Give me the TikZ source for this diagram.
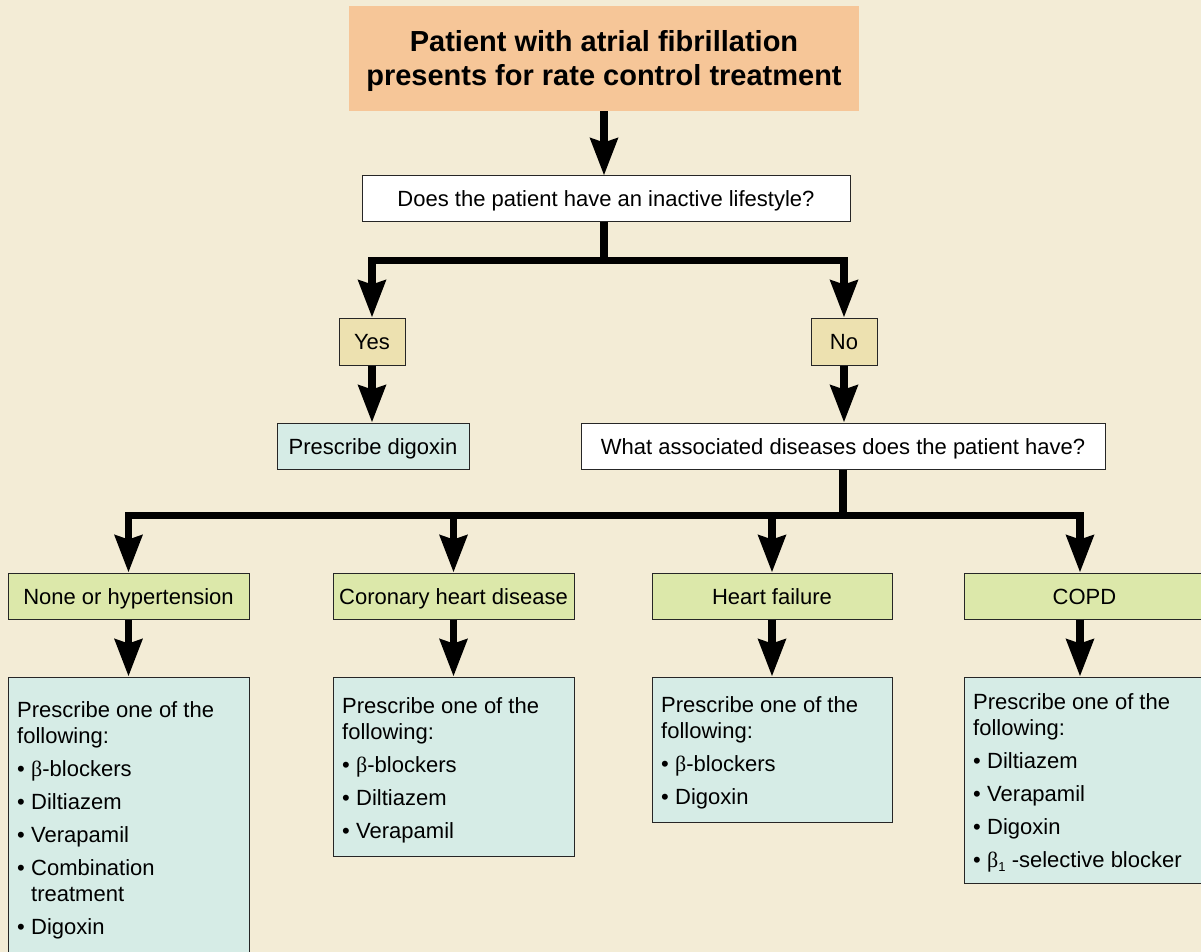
\documentclass[tikz,border=0pt]{standalone}
\usepackage{fontspec}
\setmainfont{Liberation Sans}
\newfontfamily\grk{Liberation Serif}
\usetikzlibrary{arrows.meta}
\definecolor{bg}{RGB}{243,236,214}
\definecolor{titleor}{RGB}{246,198,152}
\definecolor{ynfill}{RGB}{237,225,176}
\definecolor{tealfill}{RGB}{214,236,230}
\definecolor{catfill}{RGB}{220,232,170}
\newcommand{\bl}{\makebox[14pt][l]{•}}
\newcommand{\bta}{{\grk β}}
\begin{document}
\begin{tikzpicture}[x=1pt,y=-1pt,
 box/.style={draw=black!85, line width=1pt, inner sep=0pt, text height=16pt, text depth=0pt, font=\fontsize{22}{26}\selectfont},
 conn/.style={line width=7.5pt},
 arr/.style={conn, -{Stealth[length=37pt,width=27pt,inset=4pt]}},
 body/.style={anchor=north west, inner sep=0pt, align=left, font=\fontsize{22}{26}\selectfont}]
\clip (0,0) rectangle (1201,952);
\fill[bg] (0,0) rectangle (1201,952);

% top
\node[fill=titleor, minimum width=510pt, minimum height=105pt] (title) at (604,58.5) {};
\node[inner sep=0pt, align=center, font=\bfseries\fontsize{29}{34}\selectfont] (titletext) at (604,61)
      {Patient with atrial fibrillation\\presents for rate control treatment};
\node[box, fill=white, minimum width=488pt, minimum height=45pt] (q) at (606,198.5)
      {Does the patient have an inactive lifestyle?};
\node[box, fill=ynfill, minimum width=66pt, minimum height=47pt] (yes) at (372,341.5) {Yes};
\node[box, fill=ynfill, minimum width=66pt, minimum height=47pt] (no) at (844,341.5) {No};
\node[box, fill=tealfill, minimum width=192pt, minimum height=46pt] (dig) at (373,446) {Prescribe digoxin};
\node[box, fill=white, minimum width=524pt, minimum height=46pt] (what) at (843,446)
      {What associated diseases does the patient have?};

% categories
\node[box, fill=catfill, minimum width=241pt, minimum height=46pt] (c1) at (128.5,596) {None or hypertension};
\node[box, fill=catfill, minimum width=241pt, minimum height=46pt] (c2) at (453.5,596) {Coronary heart disease};
\node[box, fill=catfill, minimum width=240pt, minimum height=46pt] (c3) at (772,596) {Heart failure};
\node[box, fill=catfill, minimum width=241pt, minimum height=46pt] (c4) at (1084.5,596) {COPD};

% bottom boxes
\node[box, fill=tealfill, minimum width=241pt, minimum height=283pt] (b1) at (128.5,818.5) {};
\node[box, fill=tealfill, minimum width=241pt, minimum height=179pt] (b2) at (453.5,766.5) {};
\node[box, fill=tealfill, minimum width=240pt, minimum height=145pt] (b3) at (772,749.5) {};
\node[box, fill=tealfill, minimum width=241pt, minimum height=206pt] (b4) at (1084.5,780) {};

\node[body] (t1) at (17,701) {Prescribe one of the\\following:\\[7pt]\bl\bta-blockers\\[7pt]\bl Diltiazem\\[7pt]\bl Verapamil\\[7pt]\bl Combination\\\hspace*{14pt}treatment\\[7pt]\bl Digoxin};
\node[body] (t2) at (342,697) {Prescribe one of the\\following:\\[7pt]\bl\bta-blockers\\[7pt]\bl Diltiazem\\[7pt]\bl Verapamil};
\node[body] (t3) at (661,696) {Prescribe one of the\\following:\\[7pt]\bl\bta-blockers\\[7pt]\bl Digoxin};
\node[body] (t4) at (973,693) {Prescribe one of the\\following:\\[7pt]\bl Diltiazem\\[7pt]\bl Verapamil\\[7pt]\bl Digoxin\\[7pt]\bl\bta{\fontsize{13}{13}\selectfont\raisebox{-4pt}{1}} -selective blocker};

% connectors
\draw[arr] (title.south) -- (title.south |- q.north);
\draw[conn] (q.south -| title.south) -- ++(0,39) coordinate (j1);
\draw[arr] (j1) -| (yes.north);
\draw[arr] (j1) -| (no.north);
\draw[arr] (yes.south) -- (yes.south |- dig.north);
\draw[arr] (no.south) -- (no.south |- what.north);
\draw[conn] (what.south) -- ++(0,46) coordinate (j2);
\draw[arr] (j2) -| (c1.north);
\draw[arr] (j2) -| (c2.north);
\draw[arr] (j2) -| (c3.north);
\draw[arr] (j2) -| ([xshift=-4.5pt]c4.north);
\draw[arr] (c1.south) -- (b1.north);
\draw[arr] (c2.south) -- (b2.north);
\draw[arr] (c3.south) -- (b3.north);
\draw[arr] ([xshift=-4.5pt]c4.south) -- ([xshift=-4.5pt]b4.north);
\end{tikzpicture}
\end{document}
